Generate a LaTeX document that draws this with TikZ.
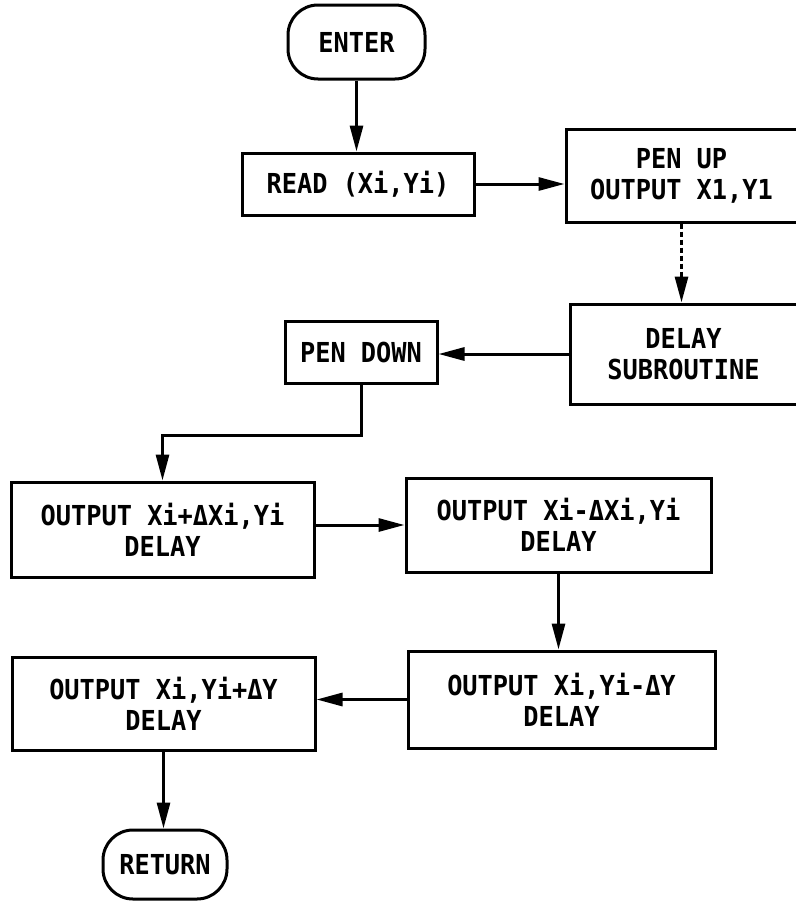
\documentclass[tikz,border=0pt]{standalone}
\usepackage{fontspec}
\newfontfamily\lettering[FakeStretch=0.92]{DejaVu Sans Mono}
\usetikzlibrary{arrows.meta}
\begin{document}
\begin{tikzpicture}[x=1pt,y=-1pt,
  every node/.style={font=\lettering\bfseries\fontsize{27.5}{31}\selectfont},
  stepbox/.style={draw, line width=3pt, inner sep=0pt, align=center},
  term/.style={draw, line width=3pt, inner sep=0pt, rounded corners=30pt},
  flow/.style={line width=3pt, -{Triangle[length=26pt,width=13pt]}},
  dotflow/.style={flow, dash pattern=on 5pt off 3pt}]
\useasboundingbox (0,0) rectangle (795,902);

\node[term, minimum width=137pt, minimum height=74pt, text depth=-8pt] (enter) at (356.5,42) {ENTER};
\node[stepbox, minimum width=232pt, minimum height=62pt] (read) at (358,184) {READ (Xi,Yi)};
\node[stepbox, minimum width=231pt, minimum height=93pt] (penup) at (681.5,175.5) {PEN UP\\OUTPUT X1,Y1};
\node[stepbox, minimum width=227pt, minimum height=100pt] (delay) at (683.5,354) {DELAY\\SUBROUTINE};
\node[stepbox, minimum width=152pt, minimum height=62pt] (pendown) at (361,352) {PEN DOWN};
\node[stepbox, minimum width=303pt, minimum height=95pt] (boxA) at (162.5,529.5) {OUTPUT Xi+ΔXi,Yi\\DELAY};
\node[stepbox, minimum width=305pt, minimum height=94pt] (boxB) at (558.5,525) {OUTPUT Xi-ΔXi,Yi\\DELAY};
\node[stepbox, minimum width=307pt, minimum height=97pt] (boxC) at (561.5,699.5) {OUTPUT Xi,Yi-ΔY\\DELAY};
\node[stepbox, minimum width=303pt, minimum height=93pt] (boxD) at (163.5,703.5) {OUTPUT Xi,Yi+ΔY\\DELAY};
\node[term, minimum width=124pt, minimum height=69pt] (ret) at (165,864.5) {RETURN};

\draw[flow] (enter.south) -- (enter.south |- read.north);
\draw[flow] (read.east) -- (read.east -| penup.west);
\draw[dotflow] (penup.south) -- (penup.south |- delay.north);
\draw[flow] (delay.west) -- (delay.west -| pendown.east);
\draw[flow] (pendown.south) -- ++(0,51) -| (boxA.north);
\draw[flow] (boxA.east |- boxB.west) -- (boxB.west);
\draw[flow] (boxB.south) -- (boxB.south |- boxC.north);
\draw[flow] (boxC.west) -- (boxC.west -| boxD.east);
\draw[flow] (boxD.south) -- (boxD.south |- ret.north);
\end{tikzpicture}
\end{document}
